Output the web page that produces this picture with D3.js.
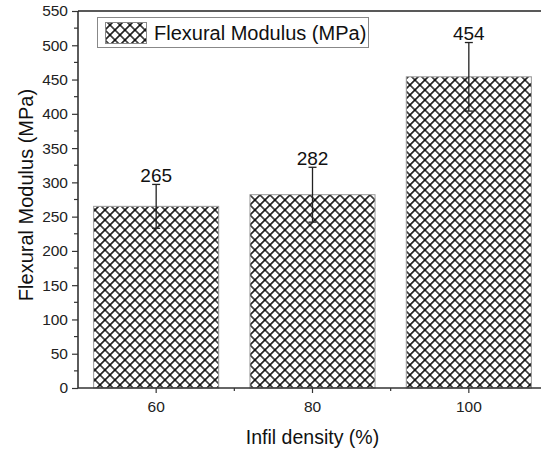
<!DOCTYPE html>
<html>
<head>
<meta charset="utf-8">
<script src="https://cdn.jsdelivr.net/npm/d3@7"></script>
<style>
  body { margin: 0; background: #fff; }
  svg { display: block; font-family: Arial, "Liberation Sans", sans-serif; }
</style>
</head>
<body>
<div id="chart"></div>
<script>
// data
const categories = ["60", "80", "100"];
const modulus = [265, 282, 454];
const errors = [32, 40, 50];
const yTicks = [0, 50, 100, 150, 200, 250, 300, 350, 400, 450, 500, 550];

const width = 541, height = 451;
const margin = {top: 11, left: 78, right: -6, bottom: 63};

const svg = d3.select("#chart").append("svg")
  .attr("width", width)
  .attr("height", height);

// cross hatch fill
const defs = svg.append("defs");
const pat = defs.append("pattern")
  .attr("id", "hatch")
  .attr("patternUnits", "userSpaceOnUse")
  .attr("width", 7.07)
  .attr("height", 7.07)
  .attr("patternTransform", "rotate(45)");
pat.append("rect").attr("width", 7.07).attr("height", 7.07).attr("fill", "#fff");
pat.append("path")
  .attr("d", "M0,3.535H7.07M3.535,0V7.07")
  .attr("stroke", "#000")
  .attr("stroke-width", 1.5);

const x = d3.scaleBand()
  .domain(categories)
  .range([margin.left, width - margin.right])
  .paddingInner(0.2)
  .paddingOuter(0.1);

const xb = d3.scaleBand()
  .domain(categories)
  .range([margin.left, width - margin.right]);

const y = d3.scaleLinear()
  .domain([0, 550])
  .range([height - margin.bottom, margin.top]);

// bars
svg.selectAll("rect.bar")
  .data(modulus)
  .join("rect")
  .attr("class", "bar")
  .attr("x", (d, i) => x(categories[i]))
  .attr("y", d => y(d))
  .attr("width", x.bandwidth())
  .attr("height", d => y(0) - y(d))
  .attr("fill", "url(#hatch)")
  .attr("stroke", "#999")
  .attr("stroke-width", 1);

// error bars
const cx = i => xb(categories[i]) + xb.bandwidth() / 2;
const eb = svg.append("g").attr("stroke", "#222").attr("stroke-width", 1.3);
modulus.forEach((d, i) => {
  const c = cx(i);
  eb.append("line").attr("x1", c).attr("x2", c)
    .attr("y1", y(d + errors[i])).attr("y2", y(d - errors[i]));
  [d + errors[i], d - errors[i]].forEach(v => {
    eb.append("line").attr("x1", c - 4).attr("x2", c + 4)
      .attr("y1", y(v)).attr("y2", y(v));
  });
  svg.append("text")
    .attr("x", c)
    .attr("y", y(d + errors[i]) - 2.5)
    .attr("text-anchor", "middle")
    .attr("font-size", 19)
    .attr("fill", "#111")
    .text(d);
});

// y axis
const yAxis = svg.append("g")
  .attr("transform", `translate(${margin.left},0)`)
  .call(d3.axisLeft(y).tickValues(yTicks).tickSize(6).tickPadding(4));
yAxis.selectAll("text").attr("font-size", 15.5).attr("fill", "#222").attr("font-family", "Arial, 'Liberation Sans', sans-serif");
yAxis.selectAll("line").attr("stroke", "#333").attr("stroke-width", 1.2);
yAxis.select(".domain").remove();
const minorY = d3.range(25, 550, 50);
yAxis.selectAll("line.minor").data(minorY).join("line")
  .attr("class", "minor")
  .attr("x1", -4).attr("x2", 0)
  .attr("y1", d => y(d)).attr("y2", d => y(d))
  .attr("stroke", "#333").attr("stroke-width", 1.2);

// x axis
const xAxis = svg.append("g")
  .attr("transform", `translate(0,${y(0)})`)
  .call(d3.axisBottom(xb).tickSize(5).tickPadding(8));
xAxis.selectAll("text").attr("font-size", 15.5).attr("fill", "#222").attr("font-family", "Arial, 'Liberation Sans', sans-serif");
xAxis.selectAll("line").attr("stroke", "#333").attr("stroke-width", 1.2);
xAxis.select(".domain").remove();
xAxis.selectAll("line.minor").data(categories.slice(1)).join("line")
  .attr("class", "minor")
  .attr("x1", d => xb(d)).attr("x2", d => xb(d))
  .attr("y1", 0).attr("y2", 3)
  .attr("stroke", "#333").attr("stroke-width", 1.2);

// frame lines
svg.append("line")
  .attr("x1", margin.left).attr("x2", width - margin.right)
  .attr("y1", y(0)).attr("y2", y(0))
  .attr("stroke", "#333").attr("stroke-width", 1.6);
svg.append("line")
  .attr("x1", margin.left).attr("x2", margin.left)
  .attr("y1", y(0)).attr("y2", y(550))
  .attr("stroke", "#333").attr("stroke-width", 1.6);
svg.append("line")
  .attr("x1", margin.left).attr("x2", width - margin.right)
  .attr("y1", y(550)).attr("y2", y(550))
  .attr("stroke", "#222").attr("stroke-width", 1.6);

// axis titles
svg.append("text")
  .attr("x", (margin.left + width - margin.right) / 2)
  .attr("y", 444)
  .attr("text-anchor", "middle")
  .attr("font-size", 19.5)
  .attr("fill", "#111")
  .text("Infil density (%)");

svg.append("text")
  .attr("transform", `translate(33,195) rotate(-90)`)
  .attr("text-anchor", "middle")
  .attr("font-size", 20)
  .attr("fill", "#111")
  .text("Flexural Modulus (MPa)");

// legend
const lg = svg.append("g");
lg.append("rect")
  .attr("x", 97.5).attr("y", 17.5)
  .attr("width", 271).attr("height", 30)
  .attr("fill", "#fff").attr("stroke", "#888");
lg.append("rect")
  .attr("x", 105.5).attr("y", 22.5)
  .attr("width", 41).attr("height", 21)
  .attr("fill", "url(#hatch)").attr("stroke", "#888");
lg.append("text")
  .attr("x", 154).attr("y", 40)
  .attr("font-size", 20)
  .attr("fill", "#111")
  .text("Flexural Modulus (MPa)");
</script>
</body>
</html>
